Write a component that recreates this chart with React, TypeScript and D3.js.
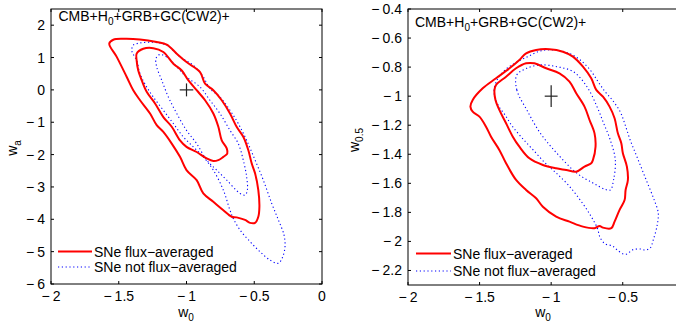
import React from "react";
import * as d3 from "d3";

type P = [number, number];

// ---- Left panel (w0, wa) ----
const leftRedOuter: P[] = [
  [-1.570, 1.43], [-1.540, 1.55], [-1.466, 1.58], [-1.343, 1.56], [-1.220, 1.48], [-1.146, 1.40],
  [-1.072, 1.12], [-1.0, 0.86], [-0.900, 0.55], [-0.863, 0.19], [-0.802, -0.01], [-0.740, -0.32],
  [-0.679, -0.73], [-0.630, -1.14], [-0.581, -1.45], [-0.544, -1.86], [-0.519, -2.27], [-0.494, -2.58],
  [-0.470, -3.10], [-0.462, -3.61], [-0.470, -3.92], [-0.494, -4.11], [-0.531, -4.11], [-0.568, -4.02],
  [-0.630, -3.94], [-0.667, -3.92], [-0.728, -3.72], [-0.802, -3.46], [-0.876, -3.20], [-0.925, -2.79],
  [-1.0, -2.48], [-1.048, -2.07], [-1.109, -1.66], [-1.171, -1.30], [-1.220, -1.09], [-1.269, -0.73],
  [-1.343, -0.32], [-1.393, -0.01], [-1.441, 0.40], [-1.515, 1.02],
];
const leftRedInner: P[] = [
  [-1.368, 1.12], [-1.319, 1.27], [-1.245, 1.29], [-1.171, 1.17], [-1.097, 0.81], [-1.035, 0.60],
  [-0.987, 0.30], [-0.925, -0.01], [-0.863, -0.32], [-0.802, -0.73], [-0.765, -1.14], [-0.740, -1.56],
  [-0.703, -1.81], [-0.699, -1.97], [-0.728, -2.07], [-0.765, -2.17], [-0.802, -2.20], [-0.851, -2.12],
  [-0.925, -1.92], [-1.0, -1.76], [-1.048, -1.56], [-1.109, -1.14], [-1.171, -0.84], [-1.232, -0.42],
  [-1.294, -0.06], [-1.331, 0.30], [-1.356, 0.60], [-1.368, 0.91],
];
const leftBlueOuter: P[] = [
  [-1.404, 1.22], [-1.393, 1.38], [-1.343, 1.45], [-1.245, 1.47], [-1.146, 1.38], [-1.048, 1.02],
  [-0.950, 0.76], [-0.876, 0.40], [-0.827, 0.04], [-0.753, -0.22], [-0.679, -0.63], [-0.618, -1.04],
  [-0.556, -1.56], [-0.494, -2.17], [-0.433, -2.79], [-0.371, -3.51], [-0.322, -4.02], [-0.280, -4.49],
  [-0.273, -4.85], [-0.290, -5.16], [-0.322, -5.36], [-0.384, -5.26], [-0.458, -5.00], [-0.531, -4.69],
  [-0.605, -4.33], [-0.655, -3.97], [-0.679, -3.72], [-0.728, -3.10], [-0.802, -2.48], [-0.876, -2.07],
  [-0.950, -1.76], [-1.024, -1.45], [-1.097, -1.04], [-1.171, -0.63], [-1.245, -0.22], [-1.294, 0.09],
  [-1.343, 0.50], [-1.368, 0.91], [-1.393, 1.10],
];
const leftBlueInner: P[] = [
  [-1.200, 1.09], [-1.146, 1.02], [-1.0, 0.40], [-0.900, 0.09], [-0.827, -0.32], [-0.753, -0.73],
  [-0.679, -1.25], [-0.618, -1.66], [-0.581, -2.17], [-0.556, -2.69], [-0.551, -3.10], [-0.568, -3.25],
  [-0.605, -3.20], [-0.703, -2.79], [-0.777, -2.48], [-0.851, -2.17], [-0.925, -1.66], [-1.0, -1.25],
  [-1.072, -0.73], [-1.134, -0.22], [-1.183, 0.30], [-1.220, 0.71], [-1.225, 0.97],
];

// ---- Right panel (w0, w0.5) ----
const rightRedOuter: P[] = [
  [-1.564, -1.072], [-1.548, -1.026], [-1.478, -0.946], [-1.385, -0.877], [-1.291, -0.808], [-1.222, -0.751],
  [-1.175, -0.705], [-1.105, -0.682], [-1.012, -0.677], [-0.918, -0.694], [-0.848, -0.728], [-0.778, -0.797],
  [-0.720, -0.877], [-0.685, -0.957], [-0.638, -1.004], [-0.592, -1.072], [-0.557, -1.152], [-0.534, -1.256],
  [-0.510, -1.324], [-0.499, -1.393], [-0.471, -1.485], [-0.464, -1.577], [-0.480, -1.646], [-0.487, -1.715],
  [-0.522, -1.783], [-0.557, -1.864], [-0.580, -1.909], [-0.638, -1.905], [-0.662, -1.893], [-0.697, -1.909],
  [-0.778, -1.898], [-0.872, -1.864], [-0.965, -1.829], [-1.058, -1.761], [-1.105, -1.703], [-1.175, -1.646],
  [-1.245, -1.577], [-1.315, -1.462], [-1.362, -1.370], [-1.420, -1.279], [-1.455, -1.210], [-1.501, -1.141],
  [-1.548, -1.107],
];
const rightRedInner: P[] = [
  [-1.396, -0.957], [-1.385, -0.923], [-1.315, -0.866], [-1.245, -0.808], [-1.175, -0.774], [-1.117, -0.774],
  [-1.035, -0.808], [-0.942, -0.843], [-0.872, -0.900], [-0.825, -0.980], [-0.767, -1.072], [-0.732, -1.164],
  [-0.697, -1.256], [-0.690, -1.348], [-0.708, -1.439], [-0.720, -1.462], [-0.767, -1.485], [-0.825, -1.520],
  [-0.895, -1.508], [-0.965, -1.497], [-1.058, -1.474], [-1.152, -1.428], [-1.222, -1.348], [-1.268, -1.279],
  [-1.315, -1.187], [-1.362, -1.095], [-1.389, -1.026],
];
const rightBlueOuter: P[] = [
  [-1.399, -0.971], [-1.378, -0.889], [-1.322, -0.820], [-1.252, -0.772], [-1.168, -0.730], [-1.077, -0.689],
  [-0.972, -0.682], [-0.881, -0.703], [-0.797, -0.751], [-0.727, -0.820], [-0.671, -0.902], [-0.622, -0.971],
  [-0.573, -1.026], [-0.517, -1.109], [-0.483, -1.198], [-0.448, -1.302], [-0.406, -1.405], [-0.364, -1.508],
  [-0.322, -1.611], [-0.280, -1.715], [-0.252, -1.804], [-0.259, -1.887], [-0.287, -1.990], [-0.308, -2.045],
  [-0.343, -2.059], [-0.378, -2.052], [-0.434, -2.059], [-0.469, -2.086], [-0.497, -2.086], [-0.538, -2.059],
  [-0.573, -2.031], [-0.622, -2.017], [-0.657, -1.976], [-0.678, -1.907], [-0.727, -1.818], [-0.797, -1.715],
  [-0.881, -1.611], [-0.965, -1.529], [-1.042, -1.460], [-1.126, -1.370], [-1.203, -1.288], [-1.273, -1.205],
  [-1.322, -1.130], [-1.371, -1.061],
];
const rightBlueInner: P[] = [
  [-1.240, -0.854], [-1.240, -0.957], [-1.170, -1.095], [-1.077, -1.253], [-0.960, -1.393], [-0.820, -1.531],
  [-0.704, -1.600], [-0.629, -1.639], [-0.587, -1.646], [-0.564, -1.577], [-0.552, -1.439], [-0.587, -1.302],
  [-0.634, -1.185], [-0.680, -1.072], [-0.750, -0.935], [-0.844, -0.832], [-0.960, -0.797], [-1.077, -0.785],
  [-1.170, -0.808],
];

const leftXTicks = [-2, -1.5, -1, -0.5, 0];
const leftYTicks = [2, 1, 0, -1, -2, -3, -4, -5, -6];
const rightXTicks = [-2, -1.5, -1, -0.5];
const rightYTicks = [-0.4, -0.6, -0.8, -1, -1.2, -1.4, -1.6, -1.8, -2, -2.2];
const legendLabels = ["SNe flux\u2212averaged", "SNe not flux\u2212averaged"];
const leftFiducial: P = [-1, 0];
const rightFiducial: P = [-1, -1];

const FONT = "Liberation Sans, Arial, Helvetica, sans-serif";
const RED = "#ff0000";
const BLUE = "#0000ff";

function TickLabel({ v, x, y, anchor }: { v: number; x: number; y: number; anchor: string }) {
  const s = String(Math.abs(v));
  return (
    <text x={x} y={y} textAnchor={anchor} fontSize={14} fontFamily={FONT} fill="#000">
      {v < 0 ? (
        <>
          <tspan>{"\u2212"}</tspan>
          <tspan dx={3}>{s}</tspan>
        </>
      ) : (
        s
      )}
    </text>
  );
}

function Panel(props: {
  xDomain: [number, number];
  xRange: [number, number];
  yDomain: [number, number];
  yRange: [number, number];
  xTicks: number[];
  yTicks: number[];
  contours: { pts: P[]; kind: "red" | "blue" }[];
  fid: P;
  fidHalf: [number, number];
  ann: { x: number; y: number };
  legend: { x0: number; x1: number; y: number[] };
  yLabel: { x: number; y: number; main: string; sub: string };
  xLabelX: number;
  clipId: string;
}) {
  const x = d3.scaleLinear().domain(props.xDomain).range(props.xRange);
  const y = d3.scaleLinear().domain(props.yDomain).range(props.yRange);
  const line = d3
    .line<P>()
    .x((d) => x(d[0]))
    .y((d) => y(d[1]))
    .curve(d3.curveCatmullRomClosed.alpha(0.5));
  const [L, R] = props.xRange;
  const [B, T] = props.yRange;
  const tl = 3;
  return (
    <g>
      <defs>
        <clipPath id={props.clipId}>
          <rect x={L} y={T} width={R - L} height={B - T} />
        </clipPath>
      </defs>
      <g clipPath={`url(#${props.clipId})`}>
        {props.contours.map((c, i) => (
          <path
            key={i}
            d={line(c.pts) || ""}
            fill="none"
            stroke={c.kind === "red" ? RED : BLUE}
            strokeWidth={c.kind === "red" ? 2 : 1.1}
            strokeDasharray={c.kind === "red" ? undefined : "1.2 2.6"}
            strokeLinejoin="round"
          />
        ))}
        <line
          x1={x(props.fid[0] - props.fidHalf[0])}
          x2={x(props.fid[0] + props.fidHalf[0])}
          y1={y(props.fid[1])}
          y2={y(props.fid[1])}
          stroke="#222"
          strokeWidth={1.2}
        />
        <line
          x1={x(props.fid[0])}
          x2={x(props.fid[0])}
          y1={y(props.fid[1] - props.fidHalf[1])}
          y2={y(props.fid[1] + props.fidHalf[1])}
          stroke="#222"
          strokeWidth={1.2}
        />
      </g>
      {props.xTicks.map((t) => (
        <g key={"x" + t}>
          <line x1={x(t)} x2={x(t)} y1={B} y2={B - tl} stroke="#000" />
          <line x1={x(t)} x2={x(t)} y1={T} y2={T + tl} stroke="#000" />
          <TickLabel v={t} x={x(t)} y={B + 17} anchor="middle" />
        </g>
      ))}
      {props.yTicks.map((t) => (
        <g key={"y" + t}>
          <line x1={L} x2={L + tl} y1={y(t)} y2={y(t)} stroke="#000" />
          <line x1={R} x2={R - tl} y1={y(t)} y2={y(t)} stroke="#000" />
          <TickLabel v={t} x={L - 6} y={y(t) + 5} anchor="end" />
        </g>
      ))}
      <rect x={L} y={T} width={R - L} height={B - T} fill="none" stroke="#000" strokeWidth={1} />
      <text x={props.ann.x} y={props.ann.y} fontSize={14} fontFamily={FONT} fill="#000">
        CMB+H
        <tspan fontSize={10} dy={4}>0</tspan>
        <tspan dy={-4}>+GRB+GC(CW2)+</tspan>
      </text>
      {legendLabels.map((lab, i) => (
        <g key={lab}>
          <line
            x1={props.legend.x0}
            x2={props.legend.x1}
            y1={props.legend.y[i]}
            y2={props.legend.y[i]}
            stroke={i === 0 ? RED : BLUE}
            strokeWidth={i === 0 ? 2 : 1.1}
            strokeDasharray={i === 0 ? undefined : "1.2 2.6"}
          />
          <text x={props.legend.x1 + 2} y={props.legend.y[i] + 5} fontSize={14} fontFamily={FONT} fill="#000">
            {lab}
          </text>
        </g>
      ))}
      <text x={props.xLabelX} y={317} textAnchor="middle" fontSize={14} fontFamily={FONT} fill="#000">
        w<tspan fontSize={10} dy={4}>0</tspan>
      </text>
      <text
        transform={`translate(${props.yLabel.x},${props.yLabel.y}) rotate(-90)`}
        textAnchor="middle"
        fontSize={14}
        fontFamily={FONT}
        fill="#000"
      >
        {props.yLabel.main}
        <tspan fontSize={10} dy={4}>{props.yLabel.sub}</tspan>
      </text>
    </g>
  );
}

export default function App() {
  return (
    <svg
      width={676}
      height={329}
      style={{ position: "absolute", left: 0, top: 0, background: "#fff" }}
    >
      <rect x={0} y={0} width={676} height={329} fill="#fff" />
      <Panel
        xDomain={[-2, 0]}
        xRange={[51, 322]}
        yDomain={[-6, 2.5]}
        yRange={[284, 9]}
        xTicks={leftXTicks}
        yTicks={leftYTicks}
        contours={[
          { pts: leftBlueOuter, kind: "blue" },
          { pts: leftBlueInner, kind: "blue" },
          { pts: leftRedOuter, kind: "red" },
          { pts: leftRedInner, kind: "red" },
        ]}
        fid={leftFiducial}
        fidHalf={[0.05, 0.2]}
        ann={{ x: 58.5, y: 20.5 }}
        legend={{ x0: 58, x1: 92, y: [251.5, 267] }}
        yLabel={{ x: 17, y: 148, main: "w", sub: "a" }}
        xLabelX={186}
        clipId="clipL"
      />
      <Panel
        xDomain={[-2, -0.1]}
        xRange={[408, 680]}
        yDomain={[-2.3, -0.4]}
        yRange={[285, 9]}
        xTicks={rightXTicks}
        yTicks={rightYTicks}
        contours={[
          { pts: rightBlueOuter, kind: "blue" },
          { pts: rightBlueInner, kind: "blue" },
          { pts: rightRedOuter, kind: "red" },
          { pts: rightRedInner, kind: "red" },
        ]}
        fid={rightFiducial}
        fidHalf={[0.045, 0.075]}
        ann={{ x: 415, y: 26.5 }}
        legend={{ x0: 416, x1: 451, y: [253.5, 271] }}
        yLabel={{ x: 359, y: 140, main: "w", sub: "0.5" }}
        xLabelX={543}
        clipId="clipR"
      />
    </svg>
  );
}
